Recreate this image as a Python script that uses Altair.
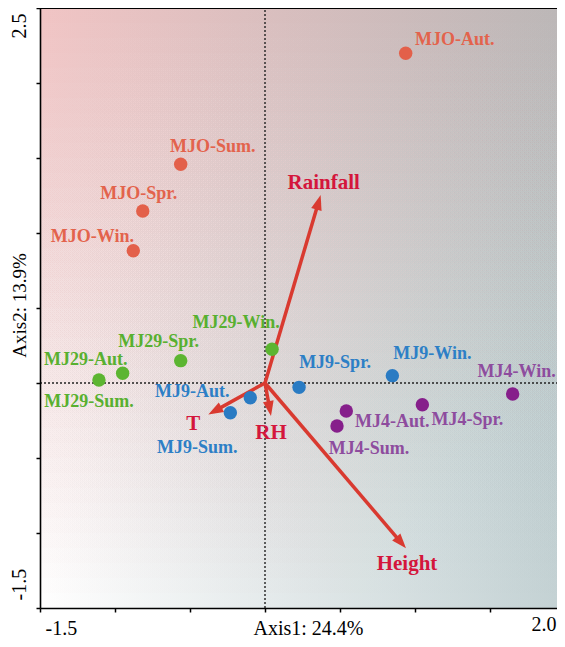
import math
import altair as alt
import pandas as pd

# ---------------- data ----------------
samples = ["MJO-Aut.", "MJO-Sum.", "MJO-Spr.", "MJO-Win.",
           "MJ29-Win.", "MJ29-Spr.", "MJ29-Aut.", "MJ29-Sum.",
           "MJ9-Aut.", "MJ9-Sum.", "MJ9-Spr.", "MJ9-Win.",
           "MJ4-Win.", "MJ4-Spr.", "MJ4-Aut.", "MJ4-Sum."]
groups = ["MJO"] * 4 + ["MJ29"] * 4 + ["MJ9"] * 4 + ["MJ4"] * 4
axis1 = [0.938, -0.562, -0.815, -0.878,
         0.047, -0.562, -0.949, -1.107,
         -0.098, -0.231, 0.227, 0.849,
         1.651, 1.049, 0.542, 0.480]
axis2 = [2.198, 1.458, 1.147, 0.882,
         0.225, 0.149, 0.065, 0.020,
         -0.098, -0.198, -0.029, 0.049,
         -0.073, -0.145, -0.187, -0.287]

variables = ["Rainfall", "Height", "T", "RH"]
var_axis1 = [0.371, 0.940, -0.378, 0.040]
var_axis2 = [1.253, -1.102, -0.210, -0.220]

x_tick_values = [-1.5, -1.0, -0.5, 0.0, 0.5, 1.0, 1.5]
x_label_left, x_label_right = "-1.5", "2.0"
y_ticks = [-1.5, -1.0, -0.5, 0.0, 0.5, 1.0, 1.5, 2.0, 2.5]
y_label_bottom, y_label_top = "-1.5", "2.5"

# ---------------- layout / style ----------------
PX = PY = 150.0          # pixels per unit on both axes
W, H = 517, 600
XMIN, YMIN, YMAX = -1.5, -1.5, 2.5
XMAX = XMIN + W / PX     # the page is cropped just before x = 2.0

# label offsets in pixels (dx right, dy down)
label_off = [(49, -13), (32, -17), (-4, -17), (-41, -14),
             (-36, -26), (-22, -19), (-37, -13), (-10, 22),
             (-58, -6), (-33, 35), (36, -24), (40, -22),
             (4, -22), (45, 15), (46, 11), (32, 23)]
var_label_off = [(3, -12), (1, 16), (-15, 9), (0, 17)]

group_order = ["MJO", "MJ29", "MJ9", "MJ4"]
point_colors = ["#e3604a", "#5cb531", "#2a7bc3", "#861f8b"]
label_colors = ["#e3634c", "#58b030", "#2d7fc6", "#8e4c9e"]
ARROW = "#d93a30"
VARTXT = "#d4163c"
SERIF = "Liberation Serif"

TL, TR, BL, BR = "#f1c4c4", "#bcb7b7", "#ffffff", "#c4d2d4"

xs = alt.Scale(domain=[XMIN, XMAX], nice=False, zero=False)
ys = alt.Scale(domain=[YMIN, YMAX], nice=False, zero=False)

pts = pd.DataFrame({
    "sample": samples, "group": groups, "x": axis1, "y": axis2,
    "lx": [a + o[0] / PX for a, o in zip(axis1, label_off)],
    "ly": [b - o[1] / PY for b, o in zip(axis2, label_off)],
})

head_half = 7.5
rows = []
for name, vx, vy, off in zip(variables, var_axis1, var_axis2, var_label_off):
    L = math.hypot(vx, vy)
    ux, uy = vx / L, vy / L
    rows.append({
        "var": name, "x0": 0.0, "y0": 0.0,
        "hx": vx - ux * head_half / PX, "hy": vy - uy * head_half / PY,
        "ang": math.degrees(math.atan2(vx, vy)) % 360,
        "lx": vx + off[0] / PX, "ly": vy - off[1] / PY,
    })
arr = pd.DataFrame(rows)

# ---------------- axes (identical object in every layer so they merge) ----------------
x_axis = alt.Axis(
    values=x_tick_values + [XMAX], format=".1f",
    labelExpr=f"datum.value == -1.5 ? '{x_label_left}' : (datum.value > 1.9 ? '{x_label_right}' : '')",
    title="Axis1: 24.4%", grid=False, zindex=2,
    domainColor="black", domainWidth=1.6,
    tickColor="black", tickWidth=1.5,
    tickSize={"condition": {"test": "datum.value > 1.9", "value": 0}, "value": 4},
    labelFont=SERIF, labelFontSize=20, labelColor="black",
    labelBaseline="alphabetic", labelPadding=22, labelFlush=False, labelOverlap=False,
    labelAlign={"condition": {"test": "datum.value == -1.5", "value": "left"}, "value": "right"},
    labelOffset={"condition": {"test": "datum.value == -1.5", "value": 5}, "value": -1},
    titleFont=SERIF, titleFontSize=20, titleFontWeight="normal", titleColor="black",
    titleX=268, titleY=26, titleAlign="center", titleBaseline="alphabetic",
)
y_axis = alt.Axis(
    values=y_ticks, format=".1f",
    labelExpr=f"datum.value == 2.5 ? '{y_label_top}' : (datum.value == -1.5 ? '{y_label_bottom}' : '')",
    title="Axis2: 13.9%", grid=False, zindex=2,
    domainColor="black", domainWidth=1.6,
    tickColor="black", tickWidth=1.5, tickSize=4,
    labelFont=SERIF, labelFontSize=20, labelColor="black",
    labelAngle=270, labelBaseline="alphabetic", labelPadding=11,
    labelFlush=False, labelOverlap=False,
    labelAlign={"condition": {"test": "datum.value == 2.5", "value": "right"}, "value": "left"},
    labelOffset={"condition": {"test": "datum.value == 2.5", "value": 5}, "value": -8},
    titleFont=SERIF, titleFontSize=19, titleFontWeight="normal", titleColor="black",
    titleAngle=270, titleX=-15, titleY=297, titleAlign="center", titleBaseline="alphabetic",
)


def X(field):
    return alt.X(field, type="quantitative", scale=xs, axis=x_axis)


def Y(field):
    return alt.Y(field, type="quantitative", scale=ys, axis=y_axis)


# ---------------- background (bilinear gradient) ----------------
def hgrad(c0, c1):
    return alt.Gradient(gradient="linear", x1=0, y1=0, x2=1, y2=0,
                        stops=[alt.GradientStop(color=c0, offset=0),
                               alt.GradientStop(color=c1, offset=1)])


bg_df = pd.DataFrame({"x0": [XMIN], "x1": [XMAX], "y0": [YMAX], "y1": [YMIN]})
bg_top = alt.Chart(bg_df).mark_rect(fill=hgrad(TL, TR), strokeWidth=0).encode(
    x=X("x0"), x2="x1", y=Y("y0"), y2="y1")

# stacked strips, each reaching the bottom, so the bottom colours build up smoothly
N = 40
step = (YMAX - YMIN) / N
targets = [(i + 0.5) / N for i in range(N)]
alphas, prev = [], 0.0
for t in targets:
    alphas.append(1 - (1 - t) / (1 - prev))
    prev = t
strips = pd.DataFrame({
    "x0": [XMIN] * N, "x1": [XMAX] * N,
    "y0": [YMAX - i * step for i in range(N)],
    "y1": [YMIN] * N,
    "op": alphas,
})
bg_bottom = alt.Chart(strips).mark_rect(fill=hgrad(BL, BR), strokeWidth=0).encode(
    x=X("x0"), x2="x1", y=Y("y0"), y2="y1",
    opacity=alt.Opacity("op:Q", scale=None))

# ---------------- reference lines ----------------
vline = alt.Chart(pd.DataFrame({"x": [0.0], "ya": [YMIN], "yb": [YMAX]})).mark_rule(
    color="#222222", strokeWidth=1.4, strokeDash=[2, 2]).encode(
    x=X("x"), y=Y("ya"), y2="yb")
hline = alt.Chart(pd.DataFrame({"y": [0.0], "xa": [XMIN], "xb": [XMAX]})).mark_rule(
    color="#222222", strokeWidth=1.4, strokeDash=[2, 2]).encode(
    y=Y("y"), x=X("xa"), x2="xb")
top_border = alt.Chart(pd.DataFrame({"y": [YMAX], "xa": [XMIN], "xb": [XMAX]})).mark_rule(
    color="black", strokeWidth=2.2).encode(
    y=Y("y"), x=X("xa"), x2="xb")

# ---------------- arrows ----------------
shafts = alt.Chart(arr).mark_rule(color=ARROW, strokeWidth=3.5, strokeCap="butt").encode(
    x=X("x0"), y=Y("y0"), x2="hx", y2="hy")
heads = alt.Chart(arr).mark_point(
    shape="M0,-1L0.72,1L-0.72,1Z", filled=True, size=225, color=ARROW, opacity=1,
    strokeWidth=0).encode(
    x=X("hx"), y=Y("hy"), angle=alt.Angle("ang:Q", scale=None))
var_labels = alt.Chart(arr).mark_text(
    font=SERIF, fontSize=21, fontWeight="bold", color=VARTXT,
    align="center", baseline="middle").encode(
    x=X("lx"), y=Y("ly"), text="var:N")

# ---------------- samples ----------------
points = alt.Chart(pts).mark_circle(size=180, opacity=1).encode(
    x=X("x"), y=Y("y"),
    color=alt.Color("group:N", scale=alt.Scale(domain=group_order, range=point_colors), legend=None))
labels = alt.Chart(pts).mark_text(
    font=SERIF, fontSize=18, fontWeight="bold", align="center", baseline="middle").encode(
    x=X("lx"), y=Y("ly"), text="sample:N",
    color=alt.Color("group:N", scale=alt.Scale(domain=group_order, range=label_colors), legend=None))

chart = alt.layer(
    bg_top, bg_bottom, vline, hline, top_border, shafts, heads, var_labels, points, labels
).resolve_scale(color="independent").properties(
    width=W, height=H,
    autosize=alt.AutoSizeParams(type="none"),
    padding={"left": 32, "top": 0, "right": 0, "bottom": 31},
    background="white",
).configure_view(stroke=None)

chart.save("out.html", embed_options={"renderer": "svg", "actions": False})
